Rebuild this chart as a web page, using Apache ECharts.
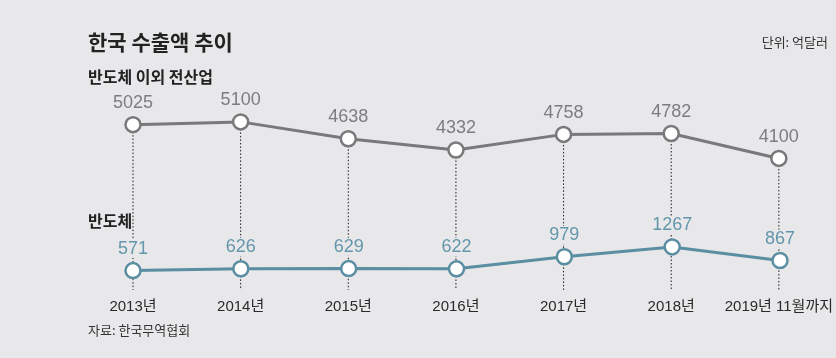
<!DOCTYPE html>
<html><head><meta charset="utf-8">
<script src="https://cdn.jsdelivr.net/npm/echarts@6/dist/echarts.min.js"></script>
<style>html,body{margin:0;padding:0;background:#e8e8ea}#c{width:836px;height:358px}</style>
</head><body><div id="c"></div>
<script>
const categories = ['2013년','2014년','2015년','2016년','2017년','2018년','2019년 11월까지'];
const otherIndustries = [5025, 5100, 4638, 4332, 4758, 4782, 4100];
const semiconductors = [571, 626, 629, 622, 979, 1267, 867];

const BG = '#e8e8ea';
const GRAY = '#79797b';
const BLUE = '#5b8ea2';
const FONT = '"Noto Sans CJK KR", "Noto Sans", sans-serif';
const NUMFONT = '"Liberation Sans", "Noto Sans CJK KR", sans-serif';

const chart = echarts.init(document.getElementById('c'));
chart.setOption({
  backgroundColor: BG,
  animation: false,
  textStyle: { fontFamily: FONT },
  graphic: [
    { type: 'text', left: 88, top: 32, style: { text: '한국 수출액 추이', font: 'bold 21px ' + FONT, fill: '#222' } },
    { type: 'text', right: 8, top: 36, style: { text: '단위: 억달러', font: '13px ' + FONT, fill: '#333' } },
    { type: 'text', left: 88, top: 69, style: { text: '반도체 이외 전산업', font: 'bold 16px ' + FONT, fill: '#222' } },
    { type: 'text', left: 88, top: 213, z: 10, style: { text: '반도체', font: 'bold 16px ' + FONT, fill: '#222' } },
    { type: 'text', left: 88, top: 324, style: { text: '자료: 한국무역협회', font: '13px ' + FONT, fill: '#333' } }
  ],
  grid: [
    { left: 133, right: 56, top: 89, bottom: 68 },
    { left: 133, right: 56, top: 222, bottom: 68 }
  ],
  xAxis: [
    { gridIndex: 0, type: 'category', data: categories, boundaryGap: false,
      axisLine: { show: false }, axisTick: { show: false }, splitLine: { show: false },
      axisLabel: { interval: 0, color: '#2a2a2a', fontSize: 15, margin: 9, fontFamily: NUMFONT } },
    { gridIndex: 1, type: 'category', data: categories, boundaryGap: false, show: false }
  ],
  yAxis: [
    { gridIndex: 0, type: 'value', min: 500, max: 6000, show: false },
    { gridIndex: 1, type: 'value', min: 0, max: 2000, show: false }
  ],
  series: [
    {
      type: 'custom', xAxisIndex: 0, yAxisIndex: 0, z: 1,
      data: otherIndustries.map((v, i) => [i, v]),
      renderItem: function (params, api) {
        const p = api.coord([api.value(0), api.value(1)]);
        const cs = params.coordSys;
        return { type: 'line', shape: { x1: p[0], y1: p[1], x2: p[0], y2: cs.y + cs.height },
          style: { stroke: '#1a1a1a', lineWidth: 1, lineDash: [1.5, 2] } };
      }
    },
    {
      type: 'line', xAxisIndex: 0, yAxisIndex: 0, z: 5,
      data: otherIndustries,
      symbol: 'circle', symbolSize: 15,
      lineStyle: { color: GRAY, width: 3 },
      itemStyle: { color: '#fff', borderColor: GRAY, borderWidth: 2.5 },
      label: { show: true, position: 'top', distance: 4, color: '#7d7d7f', fontSize: 18, fontFamily: NUMFONT }
    },
    {
      type: 'line', xAxisIndex: 1, yAxisIndex: 1, z: 5,
      data: semiconductors,
      symbol: 'circle', symbolSize: 15,
      lineStyle: { color: BLUE, width: 3 },
      itemStyle: { color: '#fff', borderColor: BLUE, borderWidth: 2.5 },
      label: { show: true, position: 'top', distance: 4, color: '#6396aa', fontSize: 18, fontFamily: NUMFONT,
        backgroundColor: BG, padding: [0, 1] }
    }
  ]
});
</script></body></html>
